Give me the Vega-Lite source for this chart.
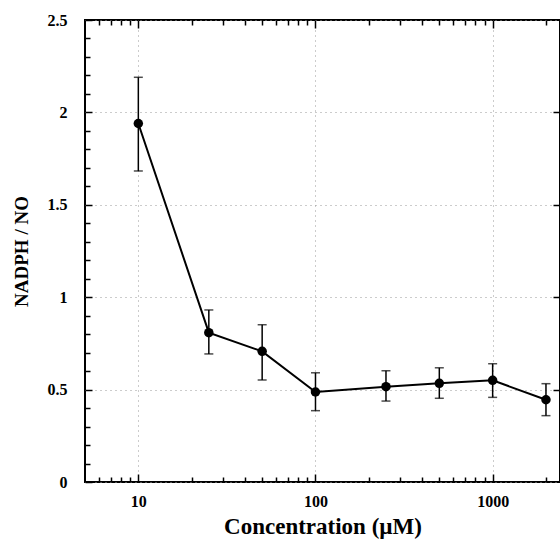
{
  "$schema": "https://vega.github.io/schema/vega-lite/v6.json",
  "width": 475,
  "height": 462,
  "autosize": {"type": "none"},
  "padding": {"left": 85, "top": 20, "right": 0, "bottom": 58},
  "background": "white",
  "config": {
    "view": {"stroke": "black", "strokeWidth": 2},
    "font": "Liberation Serif",
    "axis": {"labelFont": "Liberation Serif", "titleFont": "Liberation Serif", "labelFontWeight": "bold", "titleFontWeight": "bold", "labelColor": "black", "titleColor": "black", "tickColor": "black", "domain": false, "grid": false}
  },
  "data": {
    "values": [
      {"conc": 10, "ratio": 1.94, "lo": 1.683, "hi": 2.19},
      {"conc": 25, "ratio": 0.808, "lo": 0.693, "hi": 0.931},
      {"conc": 50, "ratio": 0.707, "lo": 0.552, "hi": 0.851},
      {"conc": 100, "ratio": 0.487, "lo": 0.386, "hi": 0.591},
      {"conc": 250, "ratio": 0.516, "lo": 0.438, "hi": 0.602},
      {"conc": 500, "ratio": 0.534, "lo": 0.453, "hi": 0.618},
      {"conc": 1000, "ratio": 0.55, "lo": 0.458, "hi": 0.64},
      {"conc": 2000, "ratio": 0.445, "lo": 0.359, "hi": 0.532}
    ]
  },
  "resolve": {"axis": {"x": "independent", "y": "independent"}},
  "layer": [
    {
      "mark": {"type": "rule", "color": "black", "strokeWidth": 1.5},
      "encoding": {
        "x": {"field": "conc", "type": "quantitative", "scale": {"type": "log", "domain": [5, 2400]},
          "axis": {"orient": "bottom", "values": [10, 100, 1000], "tickSize": -8, "tickWidth": 1.5, "labelPadding": 19, "labelFontSize": 16, "format": "d", "grid": true, "gridDash": [1, 4], "gridColor": "#999", "gridWidth": 1, "title": "Concentration (µM)", "titleFont": "Times New Roman", "titleFontWeight": "bold", "titleFontSize": 23, "titlePadding": 6}},
        "y": {"field": "lo", "type": "quantitative", "scale": {"domain": [0, 2.5]},
          "axis": {"orient": "left", "values": [0, 0.5, 1, 1.5, 2, 2.5], "format": "~g", "tickSize": -7, "tickWidth": 1.5, "labelPadding": 25, "labelFontSize": 16, "grid": true, "gridDash": [1, 4], "gridColor": "#999", "gridWidth": 1, "title": "NADPH / NO", "titleFont": "Times New Roman", "titleFontWeight": "bold", "titleFontSize": 19, "titlePadding": 16}},
        "y2": {"field": "hi"}
      }
    },
    {
      "mark": {"type": "tick", "color": "black", "orient": "horizontal", "size": 9, "thickness": 1.5},
      "encoding": {
        "x": {"field": "conc", "type": "quantitative", "scale": {"type": "log", "domain": [5, 2400]},
          "axis": {"orient": "bottom", "values": [6, 7, 8, 9, 20, 30, 40, 50, 60, 70, 80, 90, 200, 300, 400, 500, 600, 700, 800, 900, 2000], "tickSize": -5, "tickWidth": 1.5, "labels": false, "title": null}},
        "y": {"field": "hi", "type": "quantitative", "scale": {"domain": [0, 2.5]},
          "axis": {"orient": "left", "values": [0.1, 0.2, 0.3, 0.4, 0.6, 0.7, 0.8, 0.9, 1.1, 1.2, 1.3, 1.4, 1.6, 1.7, 1.8, 1.9, 2.1, 2.2, 2.3, 2.4], "tickSize": -5, "tickWidth": 1.5, "labels": false, "title": null}}
      }
    },
    {
      "mark": {"type": "tick", "color": "black", "orient": "horizontal", "size": 9, "thickness": 1.5},
      "encoding": {
        "x": {"field": "conc", "type": "quantitative", "scale": {"type": "log", "domain": [5, 2400]},
          "axis": {"orient": "top", "values": [10, 100, 1000], "tickSize": -8, "tickWidth": 1.5, "labels": false, "title": null}},
        "y": {"field": "lo", "type": "quantitative", "scale": {"domain": [0, 2.5]},
          "axis": {"orient": "right", "values": [0.5, 1, 1.5, 2], "tickSize": -7, "tickWidth": 1.5, "labels": false, "title": null}}
      }
    },
    {
      "mark": {"type": "line", "color": "black", "strokeWidth": 2, "point": {"filled": true, "color": "black", "size": 90, "opacity": 1}},
      "encoding": {
        "x": {"field": "conc", "type": "quantitative", "scale": {"type": "log", "domain": [5, 2400]},
          "axis": {"orient": "top", "values": [6, 7, 8, 9, 20, 30, 40, 50, 60, 70, 80, 90, 200, 300, 400, 500, 600, 700, 800, 900, 2000], "tickSize": -5, "tickWidth": 1.5, "labels": false, "title": null}},
        "y": {"field": "ratio", "type": "quantitative", "scale": {"domain": [0, 2.5]}, "axis": null}
      }
    }
  ]
}
